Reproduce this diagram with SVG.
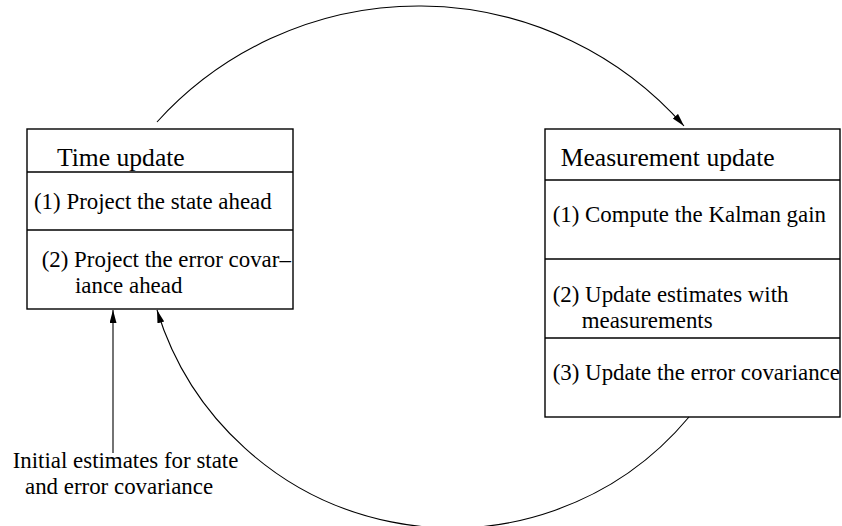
<svg xmlns="http://www.w3.org/2000/svg" width="842" height="526" viewBox="0 0 842 526">
<defs>
<style>
.box{fill:#fff;stroke:#000;stroke-width:1.4}
.div{stroke:#000;stroke-width:1.4}
.t{font-family:"Liberation Serif","Times New Roman",serif;font-size:22.9px;fill:#000}
.h{font-family:"Liberation Serif","Times New Roman",serif;font-size:25.6px;fill:#000}
.c{fill:none;stroke:#000;stroke-width:1.1}
</style>
<marker id="ah" markerUnits="userSpaceOnUse" markerWidth="14" markerHeight="8" refX="13" refY="3.5" orient="auto">
<path d="M0,0 L13,3.5 L0,7 z" fill="#000"/>
</marker>
</defs>
<rect width="842" height="526" fill="#fff"/>
<g id="time-update">
<rect class="box" x="27" y="129" width="266" height="180"/>
<line class="div" x1="27" y1="172" x2="293" y2="172"/>
<line class="div" x1="27" y1="230" x2="293" y2="230"/>
<text class="h" x="57" y="165.5">Time update</text>
<text class="t" x="34" y="209">(1) Project the state ahead</text>
<text class="t" x="41.7" y="266.5">(2) Project the error covar–</text>
<text class="t" x="75" y="293.3">iance ahead</text>
</g>
<g id="measurement-update">
<rect class="box" x="545" y="129" width="295" height="288"/>
<line class="div" x1="545" y1="180" x2="840" y2="180"/>
<line class="div" x1="545" y1="259" x2="840" y2="259"/>
<line class="div" x1="545" y1="338" x2="840" y2="338"/>
<text class="h" x="560.7" y="165.5">Measurement update</text>
<text class="t" x="552.7" y="221.7">(1) Compute the Kalman gain</text>
<text class="t" x="552.7" y="301.7">(2) Update estimates with</text>
<text class="t" x="581.7" y="328.3">measurements</text>
<text class="t" x="552.7" y="380">(3) Update the error covariance</text>
</g>
<g id="initial-estimates">
<text class="t" x="12.7" y="468.3">Initial estimates for state</text>
<text class="t" x="25" y="494">and error covariance</text>
</g>
<g id="connectors">
<path class="c" d="M157,122 A353.3,353.3 0 0 1 684,126" marker-end="url(#ah)"/>
<path class="c" d="M689,417 A308.6,308.6 0 0 1 157,310" marker-end="url(#ah)"/>
<line class="c" x1="113" y1="453" x2="113" y2="310" marker-end="url(#ah)"/>
</g>
</svg>
